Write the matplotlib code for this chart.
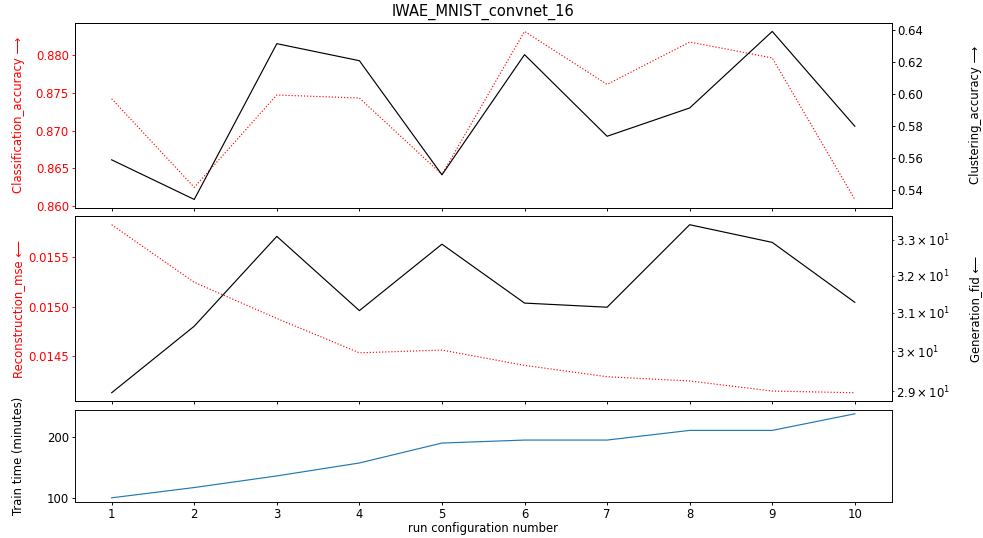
import matplotlib.pyplot as plt

# run configuration numbers
runs = [1, 2, 3, 4, 5, 6, 7, 8, 9, 10]

# top panel
classification_accuracy = [0.8742, 0.8625, 0.8747, 0.8743, 0.8642,
                           0.8831, 0.8761, 0.8817, 0.8796, 0.8609]
clustering_accuracy = [0.5587, 0.5338, 0.6317, 0.6210, 0.5493,
                       0.6248, 0.5735, 0.5913, 0.6394, 0.5798]

# middle panel
reconstruction_mse = [0.01583, 0.015247, 0.014881, 0.014533, 0.014561,
                      0.014406, 0.014291, 0.014248, 0.014146, 0.014129]
generation_fid = [28.96, 30.65, 33.09, 31.06, 32.87,
                  31.26, 31.15, 33.42, 32.92, 31.28]

# bottom panel
train_time = [100.6, 117.5, 136.6, 157.9, 190.7,
              195.6, 195.6, 211.5, 211.5, 238.8]

# shorter ticks, closer labels
for k in ['xtick', 'ytick']:
    plt.rcParams[k + '.major.size'] = 2.6
    plt.rcParams[k + '.major.pad'] = 2.2
    plt.rcParams[k + '.minor.size'] = 1.6
    plt.rcParams[k + '.minor.pad'] = 2.2

fig, axs = plt.subplots(3, 1, sharex=True, figsize=(983 / 84, 538 / 84),
                        gridspec_kw={'height_ratios': [2, 2, 1]})
fig.subplots_adjust(left=0.0758, right=0.9074, top=0.9572, bottom=0.0669,
                    hspace=0.055)

# Classification / clustering accuracy
ax = axs[0]
ax.plot(runs, classification_accuracy, color='red', linestyle=':', linewidth=1)
ax.set_ylabel('Classification_accuracy \u27f6', color='red', labelpad=2.5)
ax.tick_params(axis='y', colors='red')
ax.set_title('IWAE_MNIST_convnet_16', fontsize=12.5)
ax2 = ax.twinx()
ax2.plot(runs, clustering_accuracy, color='black', linewidth=1)
ax2.set_ylabel('Clustering_accuracy \u27f6', labelpad=39)

# Reconstruction mse / generation fid
ax = axs[1]
ax.plot(runs, reconstruction_mse, color='red', linestyle=':', linewidth=1)
ax.set_ylabel('Reconstruction_mse \u27f5', color='red', labelpad=2.5)
ax.tick_params(axis='y', colors='red')
ax3 = ax.twinx()
ax3.plot(runs, generation_fid, color='black', linewidth=1)
ax3.set_yscale('log')
ax3.set_ylabel('Generation_fid \u27f5', labelpad=16)

# Train time
ax = axs[2]
ax.plot(runs, train_time, color='C0', linewidth=1)
ax.set_ylabel('Train time (minutes)', labelpad=2.5)
ax.set_xlabel('run configuration number', labelpad=1.5)
ax.set_xticks(runs)

fig.align_ylabels(axs)

fig.savefig('out.png', dpi=84)
